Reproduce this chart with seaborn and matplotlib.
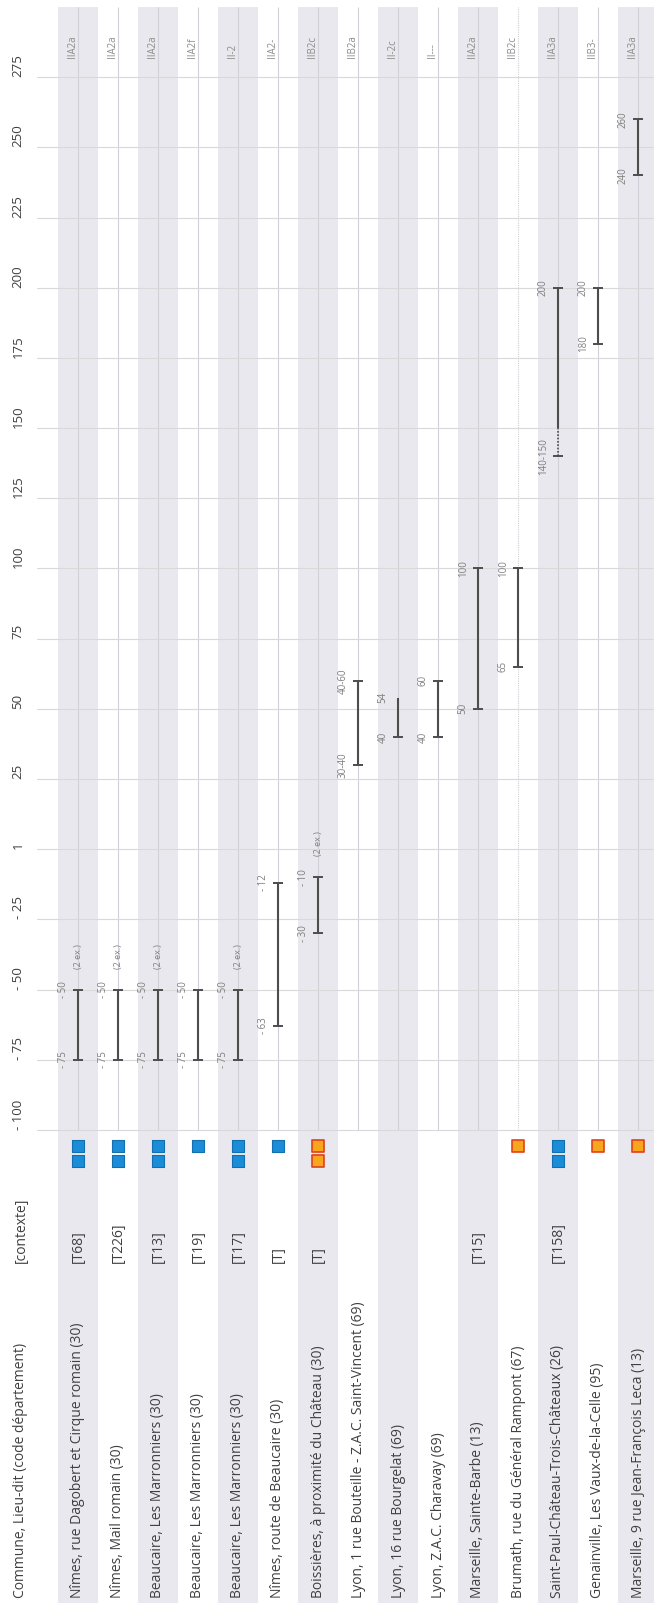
import numpy as np
import pandas as pd
import seaborn as sns
import matplotlib.pyplot as plt

# data
sites = [
    "Nîmes, rue Dagobert et Cirque romain (30)",
    "Nîmes, Mail romain (30)",
    "Beaucaire, Les Marronniers (30)",
    "Beaucaire, Les Marronniers (30)",
    "Beaucaire, Les Marronniers (30)",
    "Nîmes, route de Beaucaire (30)",
    "Boissières, à proximité du Château (30)",
    "Lyon, 1 rue Bouteille - Z.A.C. Saint-Vincent (69)",
    "Lyon, 16 rue Bourgelat (69)",
    "Lyon, Z.A.C. Charavay (69)",
    "Marseille, Sainte-Barbe (13)",
    "Brumath, rue du Général Rampont (67)",
    "Saint-Paul-Château-Trois-Châteaux (26)",
    "Genainville, Les Vaux-de-la-Celle (95)",
    "Marseille, 9 rue Jean-François Leca (13)",
]
contexts = ["[T68]", "[T226]", "[T13]", "[T19]", "[T17]", "[T]", "[T]", "", "", "",
            "[T15]", "", "[T158]", "", ""]
types = ["IIA2a", "IIA2a", "IIA2a", "IIA2f", "II-2", "IIA2-", "IIB2c", "IIB2a", "II-2c",
         "II---", "IIA2a", "IIB2c", "IIA3a", "IIB3-", "IIA3a"]
date_min = [-75, -75, -75, -75, -75, -63, -30, 30, 40, 40, 50, 65, 140, 180, 240]
date_min_sure = [-75, -75, -75, -75, -75, -63, -30, 30, 40, 40, 50, 65, 150, 180, 240]
date_max = [-50, -50, -50, -50, -50, -12, -10, 60, 54, 60, 100, 100, 200, 200, 260]
min_labels = ["- 75", "- 75", "- 75", "- 75", "- 75", "- 63", "- 30", "30-40", "40", "40",
              "50", "65", "140-150", "180", "240"]
max_labels = ["- 50", "- 50", "- 50", "- 50", "- 50", "- 12", "- 10", "40-60", "54", "60",
              "100", "100", "200", "200", "260"]
top_cap = [1, 1, 1, 1, 1, 1, 1, 1, 0, 1, 1, 1, 1, 1, 1]
notes = ["(2 ex.)", "(2 ex.)", "(2 ex.)", "", "(2 ex.)", "", "(2 ex.)", "", "", "",
         "", "", "", "", ""]
n_blue = [2, 2, 2, 1, 2, 1, 0, 0, 0, 0, 0, 0, 2, 0, 0]
n_orange = [0, 0, 0, 0, 0, 0, 2, 0, 0, 0, 0, 1, 0, 1, 1]

tick_vals = [-100, -75, -50, -25, 0, 25, 50, 75, 100, 125, 150, 175, 200, 225, 250, 275]
tick_labels = ["- 100", "- 75", "- 50", "- 25", "1", "25", "50", "75", "100", "125",
               "150", "175", "200", "225", "250", "275"]

sns.set_theme(style="white")
plt.rcParams['font.family'] = ['Open Sans', 'DejaVu Sans']

fig = plt.figure(figsize=(6.54, 16.03), dpi=100)
ax = fig.add_axes([37 / 654, 0, 617 / 654, 1 - 7 / 1603])

rows = np.arange(len(sites))

# alternating row strips
for i in rows:
    if i % 2 == 0:
        ax.axvspan(i - 0.5, i + 0.5, color="#e8e8ee", zorder=0.1, lw=0)
# thin center line of every row
for i in rows:
    ls = (0, (1, 1)) if i == 11 else "-"
    ax.vlines(i, -100, 300, color="#d0d0d8", lw=0.8, ls=ls, zorder=0.3)

ax.set_yticks(tick_vals, labels=tick_labels)
ax.tick_params(axis="y", length=0, pad=9, labelsize=9.5, labelcolor="#404040", rotation=90)
ax.set_xticks([])
ax.yaxis.grid(True, color="#d9d9d9", lw=0.8)
ax.set_axisbelow(True)
for s in ax.spines.values():
    s.set_visible(False)
for lab in ax.get_yticklabels():
    lab.set_va("bottom")

# range bars
bar_c = "#4d4d4d"
ax.vlines(rows, date_min_sure, date_max, color=bar_c, lw=1.5, zorder=3)
ax.vlines(rows, date_min, date_min_sure, color=bar_c, lw=1.2, ls=(0, (1, 1)), zorder=3)
ax.scatter(rows, date_min, marker="_", s=60, color=bar_c, lw=1.4, zorder=3)
caps = [(r, v) for r, v, c in zip(rows, date_max, top_cap) if c]
ax.scatter([c[0] for c in caps], [c[1] for c in caps], marker="_", s=60, color=bar_c,
           lw=1.4, zorder=3)

lab_c = "#7f7f7f"
for i in rows:
    ax.text(i - 0.37, date_min[i], min_labels[i], rotation=90, ha="center", va="center",
            fontsize=7, color=lab_c)
    ax.text(i - 0.37, date_max[i], max_labels[i], rotation=90, ha="center", va="center",
            fontsize=7, color=lab_c)
    if notes[i]:
        ax.text(i, date_max[i] + 7.5, notes[i], rotation=90, ha="center", va="bottom",
                fontsize=6.5, color=lab_c)
    ax.text(i - 0.15, 282, types[i], rotation=90, ha="center", va="bottom",
            fontsize=7, color="#8c8c8c")
    ax.text(i, -147.4, contexts[i], rotation=90, ha="center", va="bottom",
            fontsize=10, color="#404040")
    ax.text(i, -266.7, sites[i], rotation=90, ha="center", va="bottom",
            fontsize=10, color="#404040")

# header column
ax.text(-1.425, -266.7, "Commune, Lieu-dit (code département)", rotation=90, ha="center",
        va="bottom", fontsize=10, color="#404040", clip_on=False)
ax.text(-1.425, -147.4, "[contexte]", rotation=90, ha="center", va="bottom",
        fontsize=10, color="#404040", clip_on=False)

# specimen squares
sq = []
for i in rows:
    k = 0
    for _ in range(n_blue[i]):
        sq.append({"row": i, "y": -105.7 - 5.4 * k, "kind": "blue"})
        k += 1
    for _ in range(n_orange[i]):
        sq.append({"row": i, "y": -105.7 - 5.4 * k, "kind": "orange"})
        k += 1
sq = pd.DataFrame(sq)
blue = sq[sq.kind == "blue"]
orange = sq[sq.kind == "orange"]
sns.scatterplot(data=blue, x="row", y="y", marker="s", s=70, color="#1a8cd8",
                edgecolor="#1370b0", linewidth=0.8, ax=ax, zorder=4, legend=False)
sns.scatterplot(data=orange, x="row", y="y", marker="s", s=70, color="#f8a61e",
                edgecolor="#e2411d", linewidth=1.2, ax=ax, zorder=4, legend=False)
ax.set_xlabel("")
ax.set_ylabel("")
ax.set_xlim(-1.025, 14.4)
ax.set_ylim(-268.5, 300)

fig.savefig("out.png", dpi=100)
